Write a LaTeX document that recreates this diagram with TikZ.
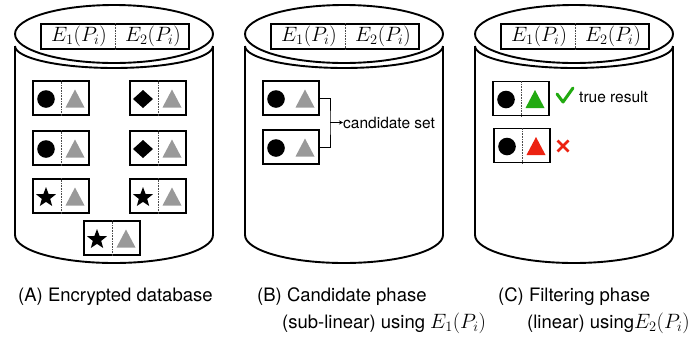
\documentclass[tikz,border=0pt]{standalone}
\usepackage{fontspec}
\setmainfont{TeX Gyre Heros}
\usetikzlibrary{shapes.geometric,arrows.meta}
\definecolor{tgray}{gray}{0.6}
\definecolor{tgreen}{RGB}{34,170,17}
\definecolor{tred}{RGB}{236,34,17}
\tikzset{
  cylline/.style={line width=1.9pt},
  recbox/.style={draw,line width=1.5pt,minimum width=56pt,minimum height=34pt,inner sep=0pt},
  divline/.style={densely dotted,line width=0.6pt,draw=black!70},
  nodiv/.style={draw=none},
  lidbox/.style={draw,line width=1.3pt,minimum width=148pt,minimum height=25pt,inner sep=0pt},
  captxt/.style={font=\fontsize{18.5}{21}\selectfont,inner sep=0pt,anchor=west},
  lbltxt/.style={font=\fontsize{15.5}{18}\selectfont,inner sep=0pt,anchor=west},
}
\newcommand\bigmath[1]{{\fontsize{21}{23}\selectfont$#1$}}
\newcommand\trisym[3]{\fill[#3] (#1-9.5,#2+9.5) -- (#1+9.5,#2+9.5) -- (#1,#2-8.5) -- cycle;}
\newcommand\circsym[2]{\fill (#1,#2+1) circle (8.8pt);}
\newcommand\diasym[2]{\fill (#1-10,#2+1) -- (#1,#2-8) -- (#1+10,#2+1) -- (#1,#2+10) -- cycle;}
\newcommand\starsym[2]{\node[star,star points=5,star point ratio=2.4,fill,minimum size=21pt,inner sep=0pt] at (#1,#2+1.5) {};}
% name, cx, cy, left symbol, triangle colour, divider style
\newcommand\rec[6]{%
  \node[recbox] (#1) at (#2,#3) {};
  \draw[#6] (#1.north) -- (#1.south);
  #4{#2-15}{#3}
  \trisym{#2+14}{#3}{#5}
}
\newcommand\cyl[2]{% shift, name
  \begin{scope}[xshift=#1pt]
    \draw[cylline] (114,34) ellipse [x radius=99pt, y radius=29pt];
    \draw[cylline] (15,46) arc[start angle=180,end angle=360,x radius=99pt,y radius=22pt];
    \draw[cylline] (15,46) -- (15,235) arc[start angle=180,end angle=360,x radius=99pt,y radius=28pt] -- (213,46);
    \node[lidbox] (#2) at (115,36.5) {};
    \draw[divline] (#2.north) -- (#2.south);
    \node[font=\fontsize{19.5}{22}\selectfont] at (79,36.5) {$E_1(P_i)$};
    \node[font=\fontsize{19.5}{22}\selectfont] at (153,36.5) {$E_2(P_i)$};
  \end{scope}
}
\begin{document}
\begin{tikzpicture}[x=1pt,y=-1pt]
\useasboundingbox (0,0) rectangle (700,338);
\cyl{0}{lidA}
\cyl{230}{lidB}
\cyl{460}{lidC}
% A
\rec{a1}{61}{98}{\circsym}{tgray}{divline}
\rec{a2}{158}{98}{\diasym}{tgray}{divline}
\rec{a3}{61}{148}{\circsym}{tgray}{divline}
\rec{a4}{158}{148}{\diasym}{tgray}{divline}
\rec{a5}{61}{196}{\starsym}{tgray}{divline}
\rec{a6}{158}{196}{\starsym}{tgray}{divline}
\rec{a7}{112}{238}{\starsym}{tgray}{divline}
% B
\rec{b1}{291}{98}{\circsym}{tgray}{nodiv}
\rec{b2}{291}{147}{\circsym}{tgray}{nodiv}
\node[lbltxt] (cs) at (343,122.5) {candidate set};
\coordinate (brk) at (330,122.5);
\draw[line width=1pt] (b1.east) -| (brk) |- (b2.east);
\draw[line width=1pt,-{Stealth[length=4pt,width=4pt]}] (brk) -- (cs.west);
% C
\rec{c1}{521}{98.5}{\circsym}{tgreen}{divline}
\rec{c2}{522}{145.5}{\circsym}{tred}{divline}
\node[lbltxt] (tr) at (579,97) {true result};
\draw[tgreen,line width=3pt,line cap=round,line join=round] (557,94) -- (563,102) -- (573,88);
\draw[tred,line width=2.6pt] (557.5,140.5) -- (568.5,151.5) (557.5,151.5) -- (568.5,140.5);
% captions
\node[captxt] (capA) at (18,297) {(A) Encrypted database};
\node[captxt] (capB) at (257,297) {(B) Candidate phase};
\node[captxt] (capB2) at (282,323) {(sub-linear) using \bigmath{E_1(P_i)}};
\node[captxt] (capC) at (498,297) {(C) Filtering phase};
\node[captxt] (capC2) at (527,323) {(linear) using\bigmath{E_2(P_i)}};
\end{tikzpicture}
\end{document}
